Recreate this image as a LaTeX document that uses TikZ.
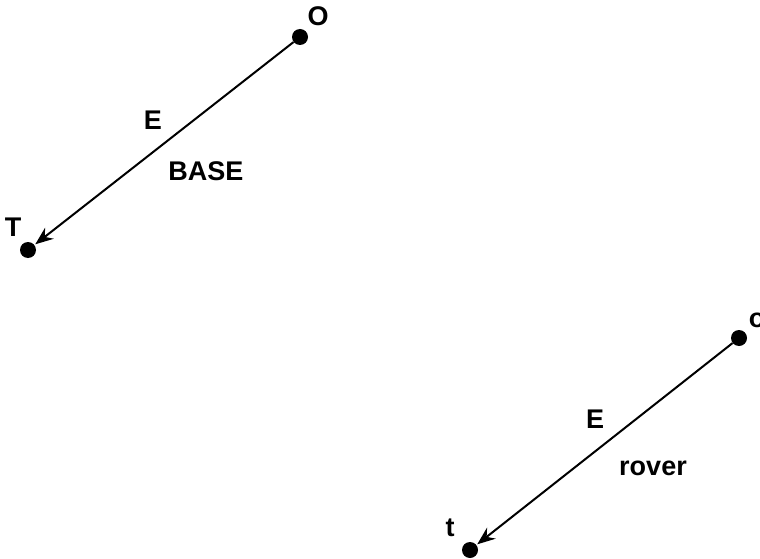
\documentclass[tikz,border=0pt]{standalone}
\usepackage{fontspec}
\setmainfont{Liberation Sans}
\usetikzlibrary{arrows.meta}
\begin{document}
\begin{tikzpicture}[x=1pt,y=-1pt,
  dot/.style={circle,fill=black,inner sep=0pt,minimum size=16pt},
  lbl/.style={font=\fontsize{27}{32}\selectfont\bfseries,inner sep=0pt},
  vec/.style={line width=2pt,-{Stealth[length=18pt,width=14pt,inset=6pt]},shorten >=1pt}]
\useasboundingbox (0,0) rectangle (760,559);
\clip (0,0) rectangle (760,559);
% BASE frame
\node[dot] (O) at (300,37) {};
\node[dot] (T) at (28,250) {};
\node[lbl] (Olbl) at (318,16) {O};
\node[lbl] (Tlbl) at (13,227) {T};
\node[lbl] (E1) at (153,120) {E};
\node[lbl] (BASE) at (206,171) {BASE};
\draw[vec] (O) -- (T);
% rover frame
\node[dot] (o) at (739,338) {};
\node[dot] (t) at (470,550) {};
\node[lbl] (olbl) at (757,320) {o};
\node[lbl] (tlbl) at (450,528) {t};
\node[lbl] (E2) at (595,419) {E};
\node[lbl] (rover) at (653,468) {rover};
\draw[vec] (o) -- (t);
\end{tikzpicture}
\end{document}
